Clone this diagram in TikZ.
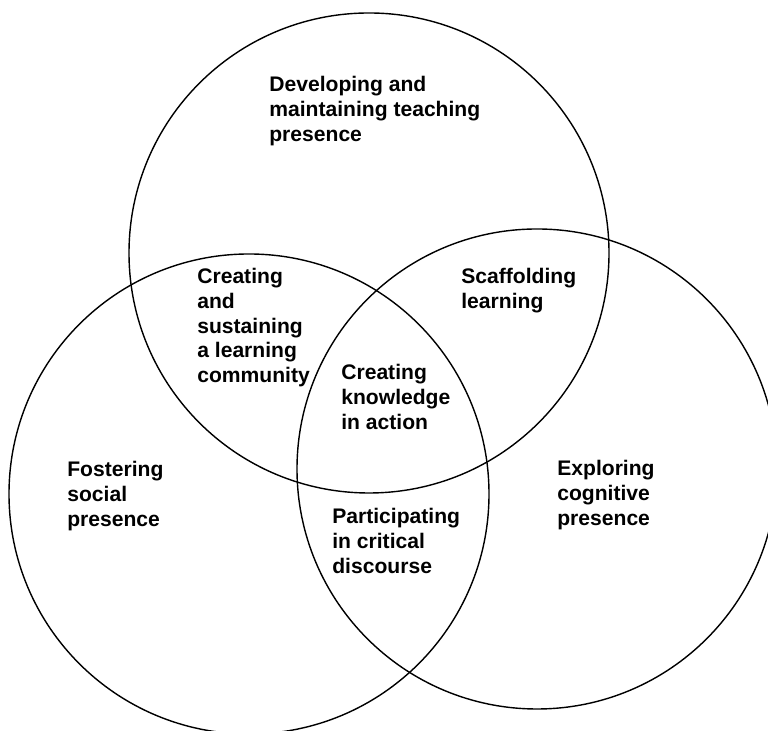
\documentclass[tikz,border=0pt]{standalone}
\usepackage{fontspec}
\setmainfont{Liberation Sans}
\usepackage{tikz}
\usepackage{xcolor}

\begin{document}
\begin{tikzpicture}[lbl/.style={anchor=north west, align=left, inner sep=0pt, font=\bfseries\fontsize{12}{14.1}\selectfont}]

    \useasboundingbox (0, 0) rectangle (15.36, 14.62);

    % Centres of the three circles
    \coordinate (cteach) at (7.38, 9.56);

    \coordinate (csocial) at (4.98, 4.74);

    \coordinate (ccogn) at (10.74, 5.24);

    \draw[line width=0.8pt] (cteach) circle (4.8);
    \draw[line width=0.8pt] (csocial) circle (4.8);
    \draw[line width=0.8pt] (ccogn) circle (4.8);


    % Labels
    \node[lbl] (teach) at (5.38, 13.10) {Developing and\\maintaining teaching\\presence};

    \node[lbl] (commun) at (3.94, 9.26) {Creating\\and\\sustaining\\a learning\\community};

    \node[lbl] (scaff) at (9.22, 9.26) {Scaffolding\\learning};

    \node[lbl] (knowl) at (6.82, 7.34) {Creating\\knowledge\\in action};

    \node[lbl] (social) at (1.34, 5.40) {Fostering\\social\\presence};

    \node[lbl] (cogn) at (11.14, 5.42) {Exploring\\cognitive\\presence};

    \node[lbl] (discourse) at (6.64, 4.46) {Participating\\in critical\\discourse};

\end{tikzpicture}
\end{document}
